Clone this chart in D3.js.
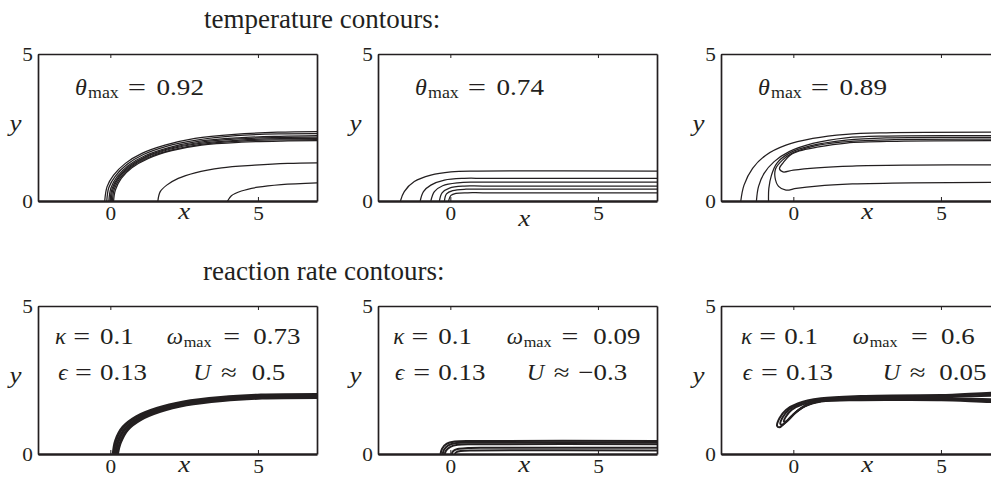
<!DOCTYPE html>
<html>
<head>
<meta charset="utf-8">
<script src="https://cdn.jsdelivr.net/npm/d3@7"></script>
<style>
  body { margin: 0; background: #fff; }
  text { font-family: "Liberation Serif", "DejaVu Serif", serif; fill: #231f20; }
</style>
</head>
<body>
<div id="chart"></div>
<script>
// tick values and labels
var xTicks = [0, 5];
var yTicks = [0, 5];
var rowTitles = ["temperature contours:", "reaction rate contours:"];

// annotation values, one per column
var thetaMax = ["0.92", "0.74", "0.89"];
var kappa = ["0.1", "0.1", "0.1"];
var omegaMax = ["0.73", "0.09", "0.6"];
var eps = ["0.13", "0.13", "0.13"];
var uSpeed = ["0.5", "\u22120.3", "0.05"];

// temperature contours, [x, y]
var tempContours1 = [
  [[-0.19,0],[-0.11,0.49],[0.11,0.88],[0.51,1.28],[1.07,1.62],[1.85,1.90],[2.87,2.13],[4.21,2.27],[5.67,2.34],[7,2.36]],
  [[-0.12,0],[-0.05,0.46],[0.17,0.85],[0.56,1.24],[1.12,1.58],[1.90,1.86],[2.92,2.07],[4.26,2.22],[5.7,2.28],[7,2.29]],
  [[-0.05,0],[0.02,0.44],[0.23,0.83],[0.61,1.21],[1.17,1.54],[1.95,1.81],[2.97,2.03],[4.32,2.15],[5.74,2.2],[7,2.22]],
  [[-0.01,0],[0.06,0.42],[0.27,0.81],[0.64,1.18],[1.20,1.51],[1.98,1.78],[3.0,1.99],[4.35,2.11],[5.76,2.16],[7,2.17]],
  [[0.03,0],[0.09,0.40],[0.30,0.80],[0.66,1.16],[1.22,1.49],[2.01,1.76],[3.03,1.96],[4.38,2.07],[5.77,2.12],[7,2.13]],
  [[0.07,0],[0.13,0.39],[0.33,0.78],[0.70,1.15],[1.26,1.47],[2.05,1.73],[3.06,1.93],[4.41,2.04],[5.78,2.08],[7,2.09]],
  [[0.11,0],[0.17,0.37],[0.37,0.77],[0.73,1.13],[1.29,1.45],[2.08,1.71],[3.09,1.90],[4.44,2.0],[5.79,2.04],[7,2.05]],
  [[1.61,0],[1.69,0.32],[1.91,0.54],[2.30,0.77],[2.87,0.96],[3.77,1.13],[4.89,1.22],[6.01,1.28],[7,1.30]],
  [[3.97,0],[4.10,0.18],[4.44,0.34],[5.0,0.47],[5.79,0.56],[7,0.62]]
];

var tempContours2 = [
  [[-1.69,0],[-1.56,0.32],[-1.22,0.66],[-0.66,0.88],[0.02,0.99],[0.93,1.02],[7,1.02]],
  [[-1.02,0],[-0.91,0.32],[-0.66,0.54],[-0.20,0.71],[0.47,0.77],[1.2,0.77],[7,0.77]],
  [[-0.66,0],[-0.54,0.32],[-0.26,0.52],[0.25,0.62],[0.93,0.64],[7,0.64]],
  [[-0.37,0],[-0.28,0.28],[-0.03,0.44],[0.47,0.51],[1.1,0.51],[7,0.51]],
  [[-0.20,0],[-0.13,0.24],[0.08,0.35],[0.53,0.40],[1.1,0.40],[7,0.40]],
  [[-0.06,0],[0.02,0.19],[0.19,0.26],[0.59,0.28],[1.1,0.28],[7,0.28]]
];

var tempContours3 = [
  [[-1.78,0],[-1.67,0.54],[-1.38,1.11],[-0.93,1.56],[-0.25,1.90],[0.66,2.13],[1.79,2.27],[3.15,2.32],[7,2.34]],
  [[-1.25,0],[-1.18,0.49],[-0.99,0.94],[-0.65,1.34],[-0.14,1.68],[0.66,1.96],[1.79,2.15],[3.15,2.21],[7,2.22]],
  [[-0.84,0],[-0.83,0.43],[-0.74,0.88],[-0.56,1.28],[-0.15,1.62],[0.6,1.88],[1.79,2.07],[3.15,2.15],[7,2.16]],
  [[7,0.63],[4,0.62],[2,0.58],[0.8,0.51],[0.1,0.43],[-0.25,0.37],[-0.5,0.5],[-0.62,0.8],[-0.6,1.1],[-0.36,1.4],[-0.05,1.62],[0.6,1.84],[1.6,2.0],[3.2,2.08],[7,2.1]],
  [[7,1.23],[4,1.22],[2,1.19],[0.8,1.13],[0,1.05],[-0.35,0.99],[-0.47,1.1],[-0.33,1.32],[-0.12,1.55],[0.2,1.7],[0.8,1.83],[1.8,1.97],[3.5,2.03],[7,2.05]]
];

// reaction rate contours
var rateContours1 = [
  [[0.1,0],[0.18,0.45],[0.43,0.91],[0.88,1.26],[1.57,1.54],[2.48,1.76],[3.74,1.91],[5.1,1.99],[7,2.01]],
  [[0.17,0],[0.26,0.42],[0.51,0.87],[0.95,1.21],[1.63,1.49],[2.53,1.71],[3.77,1.86],[5.12,1.94],[7,1.96]],
  [[0.24,0],[0.34,0.39],[0.59,0.83],[1.02,1.16],[1.69,1.44],[2.58,1.66],[3.8,1.81],[5.14,1.89],[7,1.91]]
];

var rateContours2 = [
  [[-0.33,0],[-0.28,0.18],[-0.13,0.34],[0.15,0.42],[0.8,0.44],[7,0.44]],
  [[-0.26,0],[-0.21,0.15],[-0.07,0.29],[0.2,0.37],[0.8,0.39],[7,0.39]],
  [[-0.19,0],[-0.14,0.12],[0.0,0.24],[0.25,0.31],[0.8,0.33],[7,0.33]],
  [[0.05,0],[0.1,0.1],[0.25,0.17],[0.6,0.2],[1.2,0.21],[7,0.21]],
  [[0.15,0],[0.2,0.06],[0.35,0.1],[0.8,0.12],[7,0.12]]
];

// closed loops
var rateLoops3 = [
  [[-0.55,0.95],[-0.47,1.21],[-0.25,1.49],[0.15,1.71],[0.94,1.88],[2.29,1.96],[5,1.99],[7.5,2.0],[7.5,1.83],[5,1.82],[2.29,1.82],[0.94,1.77],[0.37,1.6],[-0.02,1.32],[-0.3,1.04],[-0.47,0.9]],
  [[-0.44,1.02],[-0.36,1.24],[-0.15,1.5],[0.22,1.69],[0.95,1.85],[2.3,1.93],[5,1.96],[7.5,1.97],[7.5,1.86],[5,1.85],[2.3,1.84],[0.95,1.79],[0.4,1.63],[0.05,1.38],[-0.22,1.1],[-0.37,0.99]],
  [[-0.32,1.1],[-0.25,1.27],[-0.05,1.5],[0.3,1.67],[1.0,1.82],[2.3,1.9],[5,1.93],[7.5,1.93],[7.5,1.89],[5,1.88],[2.3,1.86],[1.0,1.8],[0.45,1.65],[0.12,1.44],[-0.12,1.2],[-0.25,1.1]]
];

// layout
var W = 991, H = 483;
var panelW = 279;
var lefts = [38, 378, 721];
var rows = [{top: 54, bottom: 201}, {top: 306, bottom: 454}];
var SX = 1.17; // the figure text is a bit wider than tall
var ink = "#231f20";

var svg = d3.select("#chart")
  .append("svg")
    .attr("width", W)
    .attr("height", H);

var x = d3.scaleLinear().domain([-2.45, 7]).range([0, panelW]);

function put(g, s, px, py, o) {
  o = o || {};
  return g.append("text")
    .attr("transform", "translate(" + px + "," + py + ") scale(" + (o.sx || SX) + ",1)")
    .attr("text-anchor", o.anchor || "start")
    .attr("font-size", o.size || 23)
    .attr("font-style", o.italic ? "italic" : null)
    .text(s);
}

var clipId = 0;

// draws a framed panel and returns its group and y scale
function panel(col, row, xLabelOffset) {
  var r = rows[row];
  var h = r.bottom - r.top;
  var y = d3.scaleLinear().domain([0, 5]).range([h, 0]);
  var g = svg.append("g")
    .attr("transform", "translate(" + lefts[col] + "," + r.top + ")");

  var id = "clip" + (clipId++);
  g.append("clipPath").attr("id", id)
    .append("rect").attr("width", panelW).attr("height", h);
  var plot = g.append("g").attr("clip-path", "url(#" + id + ")");

  var fmt = d3.format("d");
  var bottom = g.append("g")
    .attr("transform", "translate(0," + h + ")")
    .call(d3.axisBottom(x).tickValues(xTicks).tickFormat(fmt).tickSize(-4).tickSizeOuter(0).tickPadding(5.5));
  var left = g.append("g")
    .call(d3.axisLeft(y).tickValues(yTicks).tickFormat(fmt).tickSize(-4).tickSizeOuter(0).tickPadding(4.5));
  var top = g.append("g")
    .call(d3.axisTop(x).tickValues(xTicks).tickSize(-4).tickSizeOuter(0).tickFormat(""));
  var right = g.append("g")
    .attr("transform", "translate(" + panelW + ",0)")
    .call(d3.axisRight(y).tickValues(yTicks).tickSize(-4).tickSizeOuter(0).tickFormat(""));

  [bottom, left, top, right].forEach(function(a) {
    a.attr("font-family", null).attr("font-size", null);
    a.selectAll("path.domain").attr("stroke", ink).attr("stroke-width", 1.7);
    a.selectAll(".tick line").attr("stroke", ink).attr("stroke-width", 1);
    a.selectAll("text")
      .attr("font-size", 19)
      .attr("fill", ink)
      .attr("transform", "scale(1.12,1)");
  });
  bottom.select("path.domain").attr("stroke-width", 2.4);

  put(g, "x", x(2.5), h + xLabelOffset, {italic: true, anchor: "middle"});
  put(g, "y", -22.5, 77, {italic: true, anchor: "middle"});

  return {g: g, plot: plot, y: y};
}

function drawLines(p, lines, width, closed) {
  var line = d3.line()
    .x(function(d) { return x(d[0]); })
    .y(function(d) { return p.y(d[1]); })
    .curve(closed ? d3.curveCatmullRomClosed.alpha(0.5) : d3.curveCatmullRom.alpha(0.5));
  p.plot.selectAll("path.c")
    .data(lines)
    .enter()
    .append("path")
      .attr("class", "c")
      .attr("d", line)
      .attr("fill", "none")
      .attr("stroke", ink)
      .attr("stroke-width", width);
}

// row titles
put(svg, rowTitles[0], 204, 28, {size: 27, sx: 1});
put(svg, rowTitles[1], 203, 280, {size: 27, sx: 1});

// top row
var tempData = [tempContours1, tempContours2, tempContours3];
var xLabOff = [18, 25, 18];
tempData.forEach(function(lines, i) {
  var p = panel(i, 0, xLabOff[i]);
  drawLines(p, lines, 1.25, false);
  put(p.g, "\u03b8", 37, 41, {italic: true, size: 24, sx: 1});
  put(p.g, "max", 50, 43.5, {size: 16, sx: 1.12});
  put(p.g, "=", 99, 41, {anchor: "middle", sx: 1.35, size: 24});
  put(p.g, thetaMax[i], 118.5, 41, {size: 24, sx: 1.13});
});

// bottom row, text positions per panel
var ratePos = [
  {k: 17, e1: 43.7, n1: 62, w: 128.7, e2: 193.7, n2: 215.3, ep: 20.3, e3: 45.3, n3: 62, u: 155.3, e4: 191, n4: 213.7},
  {k: 15.3, e1: 42, n1: 60.3, w: 128.7, e2: 192, n2: 215.3, ep: 17, e3: 43.7, n3: 60.3, u: 148.7, e4: 183.7, n4: 200.3},
  {k: 20, e1: 46.7, n1: 63.3, w: 131.7, e2: 198.3, n2: 220, ep: 21.7, e3: 48.3, n3: 65, u: 161.7, e4: 196.7, n4: 218.3}
];
var rateData = [rateContours1, rateContours2, rateLoops3];
rateData.forEach(function(lines, i) {
  var p = panel(i, 1, 18);
  if (i === 2) drawLines(p, lines, 2, true);
  else drawLines(p, lines, i === 0 ? 3 : 2, false);
  var t = ratePos[i];
  var b1 = 38, b2 = 74;
  put(p.g, "\u03ba", t.k, b1, {italic: true, sx: 1});
  put(p.g, "=", t.e1, b1, {anchor: "middle", sx: 1.3});
  put(p.g, kappa[i], t.n1, b1);
  put(p.g, "\u03c9", t.w, b1, {italic: true, sx: 1});
  put(p.g, "max", t.w + 17, b1 + 2.5, {size: 15, sx: 1.08});
  put(p.g, "=", t.e2, b1, {anchor: "middle", sx: 1.3});
  put(p.g, omegaMax[i], t.n2, b1);
  put(p.g, "\u03f5", t.ep, b2, {italic: true, sx: 1});
  put(p.g, "=", t.e3, b2, {anchor: "middle", sx: 1.3});
  put(p.g, eps[i], t.n3, b2);
  put(p.g, "U", t.u, b2, {italic: true, sx: 1.05});
  put(p.g, "\u2248", t.e4, b2, {anchor: "middle", sx: 1.25});
  put(p.g, uSpeed[i], t.n4, b2);
});
</script>
</body>
</html>
